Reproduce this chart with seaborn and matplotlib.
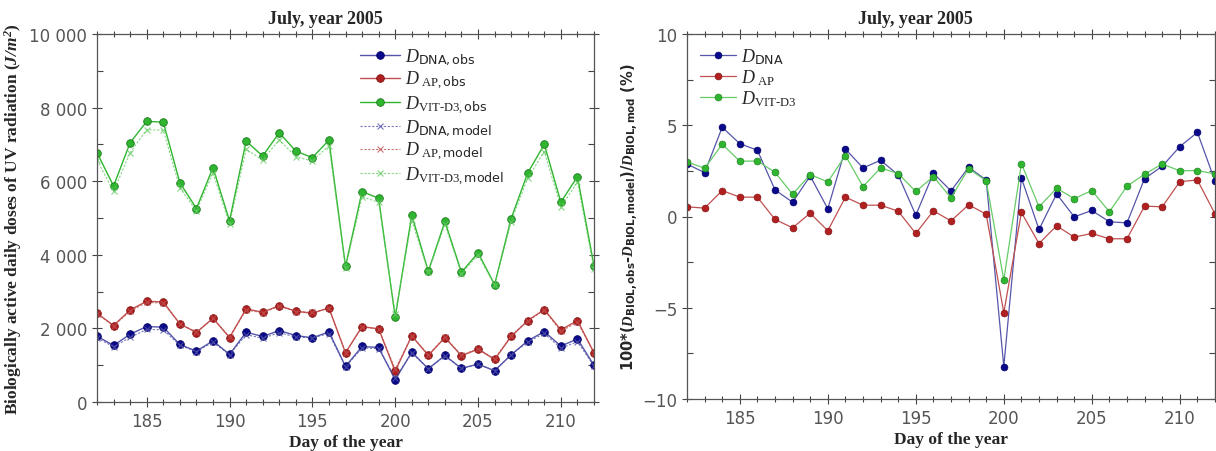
import numpy as np
import pandas as pd
import matplotlib
matplotlib.use("Agg")
import matplotlib.pyplot as plt
from matplotlib.ticker import MultipleLocator, FuncFormatter
import seaborn as sns

days = list(range(182, 213))

dna_obs = [1789, 1536, 1843, 2050, 2033, 1563, 1382, 1662, 1292, 1897, 1780, 1942, 1807, 1743, 1906,
           967, 1509, 1481, 605, 1355, 903, 1265, 912, 1030, 849, 1283, 1662, 1915, 1518, 1716, 994]
ap_obs = [2412, 2078, 2502, 2737, 2719, 2123, 1888, 2276, 1752, 2529, 2439, 2620, 2466, 2412, 2556,
          1337, 2050, 1987, 840, 1797, 1265, 1752, 1256, 1436, 1156, 1780, 2213, 2511, 1960, 2213, 1337]
vit_obs = [6775, 5870, 7046, 7624, 7606, 5962, 5257, 6368, 4923, 7091, 6685, 7317, 6820, 6640, 7118,
           3686, 5718, 5537, 2304, 5077, 3550, 4905, 3523, 4056, 3189, 4986, 6224, 7001, 5429, 6125, 3700]

dna_model = [1740, 1500, 1757, 1971, 1962, 1540, 1371, 1626, 1287, 1829, 1733, 1884, 1766, 1742, 1861,
             954, 1469, 1452, 659, 1327, 909, 1250, 912, 1027, 852, 1288, 1628, 1864, 1462, 1640, 975]
ap_model = [2400, 2068, 2467, 2707, 2689, 2127, 1899, 2272, 1766, 2501, 2424, 2604, 2459, 2434, 2548,
            1340, 2038, 1985, 887, 1793, 1284, 1761, 1270, 1449, 1170, 1802, 2200, 2498, 1923, 2170, 1337]
vit_model = [6578, 5721, 6775, 7402, 7384, 5822, 5195, 6225, 4831, 6864, 6580, 7125, 6663, 6548, 6965,
             3649, 5573, 5431, 2388, 4934, 3532, 4830, 3488, 4000, 3179, 4903, 6084, 6804, 5297, 5976, 3613]

dna_diff = [2.88, 2.40, 4.89, 3.99, 3.63, 1.46, 0.78, 2.22, 0.42, 3.70, 2.66, 3.08, 2.28, 0.07, 2.37,
            1.40, 2.70, 2.00, -8.22, 2.11, -0.71, 1.24, -0.02, 0.33, -0.29, -0.35, 2.08, 2.75, 3.83, 4.61, 1.94]
ap_diff = [0.53, 0.46, 1.42, 1.06, 1.06, -0.16, -0.62, 0.18, -0.78, 1.06, 0.62, 0.62, 0.29, -0.93, 0.31,
           -0.24, 0.64, 0.13, -5.27, 0.22, -1.48, -0.51, -1.13, -0.93, -1.22, -1.22, 0.57, 0.53, 1.91, 2.00, 0.14]
vit_diff = [3.00, 2.64, 3.96, 3.03, 3.04, 2.42, 1.22, 2.30, 1.90, 3.34, 1.64, 2.66, 2.35, 1.37, 2.19,
            1.02, 2.63, 1.95, -3.48, 2.90, 0.53, 1.55, 0.98, 1.42, 0.26, 1.66, 2.32, 2.88, 2.50, 2.52, 2.33]

title = "July, year 2005"
xlabel = "Day of the year"
ylabel_left = r"Biologically active daily doses of UV radiation ($\mathbfit{J/m^2}$)"
ylabel_right = r"100*($\mathbfit{D}_{\mathbf{BIOL,obs}}$-$\mathbfit{D}_{\mathbf{BIOL,model}}$)/$\mathbfit{D}_{\mathbf{BIOL,mod}}$ (%)"

sns.set_theme(style="ticks")
plt.rcParams["font.family"] = ["DejaVu Sans"]
plt.rcParams["mathtext.fontset"] = "custom"
plt.rcParams["mathtext.rm"] = "Liberation Serif"
plt.rcParams["mathtext.it"] = "Liberation Serif:italic"
plt.rcParams["mathtext.bf"] = "DejaVu Sans:bold"
plt.rcParams["mathtext.bfit"] = "Liberation Serif:italic:bold"
plt.rcParams["mathtext.sf"] = "DejaVu Sans"

BLUE = "#0a0a8a"
RED = "#b02020"
GREEN = "#2fb52f"
BLUE_L = "#5555aa"
RED_L = "#c05050"
GREEN_L = "#66cc66"

fig = plt.figure(figsize=(12.16, 4.52), dpi=100)
ax1 = fig.add_axes([97 / 1216, 49 / 452, 497 / 1216, 368 / 452])
ax2 = fig.add_axes([687 / 1216, 52 / 452, 528 / 1216, 365 / 452])

df_obs = pd.DataFrame({"day": days, "dna": dna_obs, "ap": ap_obs, "vit": vit_obs})
df_mod = pd.DataFrame({"day": days, "dna": dna_model, "ap": ap_model, "vit": vit_model})
df_diff = pd.DataFrame({"day": days, "dna": dna_diff, "ap": ap_diff, "vit": vit_diff})

obs_labels = [r"$D_{\mathsf{DNA,obs}}$", r"$D_{\ \mathrm{AP},\mathsf{obs}}$", r"$D_{\mathrm{VIT\text{-}D3},\mathsf{obs}}$"]
mod_labels = [r"$D_{\mathsf{DNA,model}}$", r"$D_{\ \mathrm{AP},\mathsf{model}}$", r"$D_{\mathrm{VIT\text{-}D3},\mathsf{model}}$"]
keys = ["dna", "ap", "vit"]
cols = [BLUE, RED, GREEN]
cols_l = [BLUE_L, RED_L, GREEN_L]
edge = ["#000066", "#801010", "#1a7a1a"]

for k, c, cl, e, lab in zip(keys, cols, cols_l, edge, obs_labels):
    sns.lineplot(data=df_obs, x="day", y=k, ax=ax1, color=cl if k != "vit" else c, lw=1.0,
                 marker="o", markersize=5.5, markerfacecolor=c, markeredgecolor=e,
                 markeredgewidth=0.6, label=lab)
for k, c, cl, lab in zip(keys, cols, cols_l, mod_labels):
    sns.lineplot(data=df_mod, x="day", y=k, ax=ax1, color=cl, lw=0.8, linestyle=(0, (2, 1.5)),
                 marker="x", markersize=4, markeredgewidth=0.8, markeredgecolor=cl, alpha=0.8, label=lab)

diff_labels = [r"$D_{\mathsf{DNA}}$", r"$D_{\ \mathrm{AP}}$", r"$D_{\mathrm{VIT\text{-}D3}}$"]
for k, c, cl, e, lab in zip(keys, cols, cols_l, edge, diff_labels):
    sns.lineplot(data=df_diff, x="day", y=k, ax=ax2, color=cl, lw=0.9,
                 marker="o", markersize=5, markerfacecolor=c, markeredgecolor=e,
                 markeredgewidth=0.4, label=lab)

ax1.set_xlim(182, 212)
ax1.set_ylim(0, 10000)
ax2.set_xlim(182, 212)
ax2.set_ylim(-10, 10)

ax1.yaxis.set_major_locator(MultipleLocator(2000))
ax1.yaxis.set_minor_locator(MultipleLocator(1000))
ax1.yaxis.set_major_formatter(FuncFormatter(lambda v, p: f"{int(v):,}".replace(",", " ")))
ax2.yaxis.set_major_locator(MultipleLocator(5))
ax2.yaxis.set_minor_locator(MultipleLocator(2.5))
ax2.yaxis.set_major_formatter(FuncFormatter(lambda v, p: f"{int(v)}".replace("-", "\u2212")))

for ax, tx in ((ax1, 0.459), (ax2, 0.432)):
    ax.xaxis.set_major_locator(MultipleLocator(5))
    ax.xaxis.set_minor_locator(MultipleLocator(1))
    ax.tick_params(which="both", direction="inout", top=True, right=True,
                   colors="#444444", labelcolor="#555555", labelsize=12, width=0.8)
    ax.tick_params(which="major", length=7)
    ax.tick_params(which="minor", length=4)
    ax.tick_params(axis="y", which="minor", direction="in", length=4)
    for s in ax.spines.values():
        s.set_color("#555555")
        s.set_linewidth(0.9)
    ax.set_title(title, family="Liberation Serif", fontweight="bold", fontsize=13, pad=8, x=tx)
    ax.set_xlabel(xlabel, family="Liberation Serif", fontweight="bold", fontsize=12.5, labelpad=3)
    ax.grid(False)

ax1.set_ylabel(ylabel_left, family="Liberation Serif", fontweight="bold", fontsize=12.5, labelpad=4)
ax2.set_ylabel(ylabel_right, family="DejaVu Sans", fontweight="bold", fontsize=10.5, labelpad=2)

leg1 = ax1.legend(loc="upper left", bbox_to_anchor=(0.515, 0.985), frameon=False, fontsize=13,
                  handlelength=2.2, handletextpad=0.3, labelspacing=0.12, borderaxespad=0)
leg2 = ax2.legend(loc="upper left", bbox_to_anchor=(0.01, 0.985), frameon=False, fontsize=13,
                  handlelength=2.0, handletextpad=0.3, labelspacing=0.05, borderaxespad=0)

fig.savefig("out.png", dpi=100)
